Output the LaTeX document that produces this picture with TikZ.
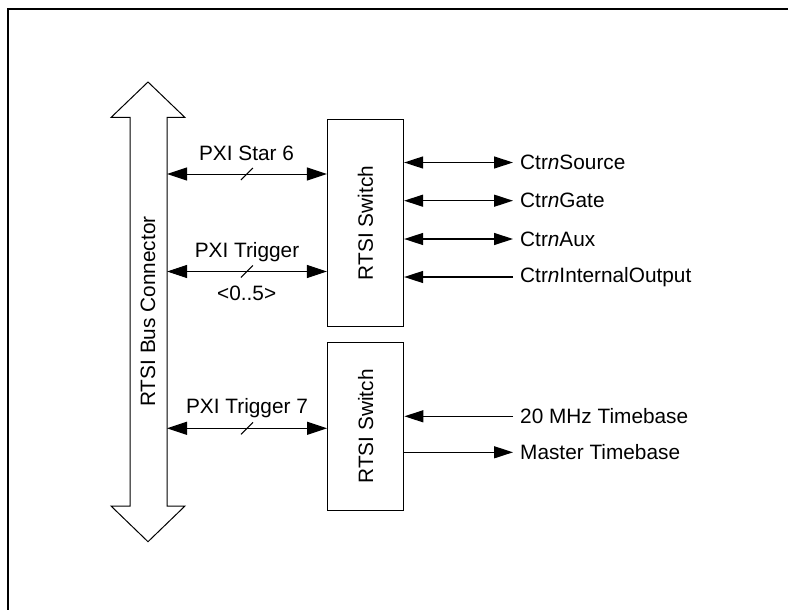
\documentclass[tikz,border=0pt]{standalone}
\usepackage{fontspec}
\setmainfont{Liberation Sans}
\usetikzlibrary{positioning,arrows.meta,calc}
\tikzstyle{switch}=[draw,line width=1.3pt,minimum width=76pt,inner sep=0pt]
\tikzstyle{sig}=[anchor=west,inner xsep=7pt,inner ysep=0pt]
\tikzstyle{bus}=[line width=1pt,>={Triangle[length=20pt,width=13pt]}]
\tikzstyle{wire}=[line width=1.3pt,>={Triangle[length=19pt,width=12pt]}]
\newcommand{\buswidth}[2]{\draw[line width=1pt] ($(#1)!0.5!(#2)$) ++(-6,6) -- ++(12,-12);}

\begin{document}
\begin{tikzpicture}[x=1pt,y=-1pt,font=\fontsize{20.8}{24}\selectfont]
  \useasboundingbox (0,0) rectangle (788,610);
  \draw[line width=2pt] (788,9) -- (8,9) -- (8,610);
  \draw[line width=1pt] (130,117.5) -- (111,117.5) -- (148,82) -- (185,117.5)
    -- (167,117.5) -- (167,506) -- (185,506) -- (148,541.7) -- (111,506)
    -- (130,506) -- cycle;
  \node(busl)[rotate=90] at (148,311.5){RTSI Bus Connector};
  \node(sw1)[switch,minimum height=207pt] at (365.5,223){};
  \node(sw2)[switch,minimum height=168pt] at (365.7,426.4){};
  \node[rotate=90] at (sw1){RTSI Switch};
  \node[rotate=90] at (sw2){RTSI Switch};
  \coordinate(b1) at (167,174);
  \coordinate(b2) at (167,271.5);
  \coordinate(b3) at (167,428.3);
  \path[draw,bus]
    (b1) edge[<->] (sw1.west |- b1)
    (b2) edge[<->] (sw1.west |- b2)
    (b3) edge[<->] (sw2.west |- b3);
  \buswidth{b1}{sw1.west |- b1}
  \buswidth{b2}{sw1.west |- b2}
  \buswidth{b3}{sw2.west |- b3}
  \node(star)  at (246.5,153.5){PXI Star 6};
  \node(trig)  at (247,251.7){PXI Trigger};
  \node(range) at (246.7,293){<0..5>};
  \node(trig7) at (247,408){PXI Trigger 7};
  \node(src)[sig]  at (513,162.5){Ctr\textit{n}Source};
  \node(gate)[sig] at (513,200.7){Ctr\textit{n}Gate};
  \node(aux)[sig]  at (513,239){Ctr\textit{n}Aux};
  \node(iout)[sig] at (513,277){Ctr\textit{n}InternalOutput};
  \node(tb20)[sig] at (513,416.3){20 MHz Timebase};
  \node(mtb)[sig]  at (513,452.3){Master Timebase};
  \path[draw,wire]
    (sw1.east |- src.west) edge[<->] (src.west)
    (sw1.east |- gate.west) edge[<->] (gate.west)
    (sw1.east |- aux.west) edge[<->] (aux.west)
    (iout.west) edge[->] (sw1.east |- iout.west)
    (tb20.west) edge[->] (sw2.east |- tb20.west)
    (sw2.east |- mtb.west) edge[->] (mtb.west);
\end{tikzpicture}
\end{document}
